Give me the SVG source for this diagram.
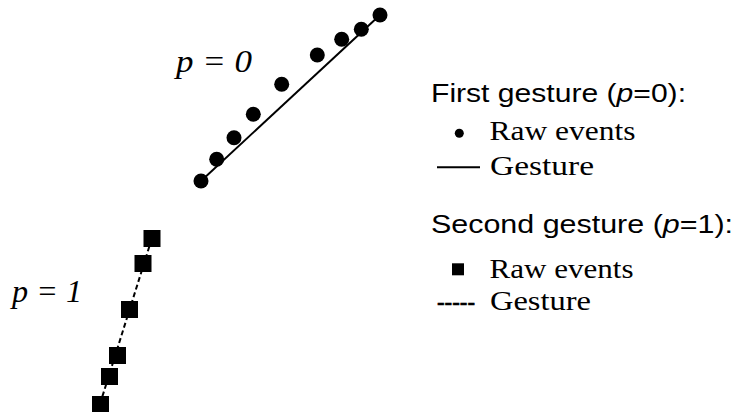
<svg xmlns="http://www.w3.org/2000/svg" width="736" height="412" viewBox="0 0 736 412">
<style>
.sans{font-family:"Liberation Sans",Arial,sans-serif;font-size:26px;fill:#000}
.serif{font-family:"Liberation Serif","Times New Roman",serif;font-size:28px;fill:#000}
.math{font-family:"Liberation Serif","Times New Roman",serif;font-size:31px;font-style:italic;fill:#000}
.dot{fill:#000}
.sq{fill:#000}
.solid{stroke:#000;stroke-width:2;fill:none}
.dash{stroke:#000;stroke-width:2;fill:none;stroke-dasharray:5 3}
</style>
<rect width="736" height="412" fill="#fff"/>
<g id="connectors">
<line class="solid" x1="201" y1="181" x2="380" y2="15"/>
<line class="dash" x1="100" y1="404" x2="152" y2="238"/>
</g>
<g id="gesture0">
<circle class="dot" cx="201" cy="181" r="7.5"/>
<circle class="dot" cx="216.7" cy="159.3" r="7.5"/>
<circle class="dot" cx="234" cy="137.7" r="7.5"/>
<circle class="dot" cx="253.3" cy="114.3" r="7.5"/>
<circle class="dot" cx="281.7" cy="84.3" r="7.5"/>
<circle class="dot" cx="317.3" cy="55" r="7.5"/>
<circle class="dot" cx="341.7" cy="39.3" r="7.5"/>
<circle class="dot" cx="361.3" cy="29.3" r="7.5"/>
<circle class="dot" cx="380" cy="15" r="7.5"/>
</g>
<g id="gesture1">
<rect class="sq" x="143.5" y="230" width="17" height="17"/>
<rect class="sq" x="134.5" y="255" width="17" height="17"/>
<rect class="sq" x="121" y="301" width="17" height="17"/>
<rect class="sq" x="109" y="347" width="17" height="17"/>
<rect class="sq" x="101" y="368" width="17" height="17"/>
<rect class="sq" x="92" y="396" width="17" height="17"/>
</g>
<g id="label-p0">
<text class="math" x="176" y="71.5" textLength="76" lengthAdjust="spacingAndGlyphs">p = 0</text>
</g>
<g id="label-p1">
<text class="math" x="12" y="302" textLength="70" lengthAdjust="spacingAndGlyphs">p = 1</text>
</g>
<g id="legend-first">
<text class="sans" x="431" y="101.7" textLength="255" lengthAdjust="spacingAndGlyphs">First gesture (<tspan font-style="italic">p</tspan>=0):</text>
<circle class="dot" cx="459.3" cy="133.3" r="4.5"/>
<text class="serif" x="489.5" y="140" textLength="146" lengthAdjust="spacingAndGlyphs">Raw events</text>
<line class="solid" x1="437" y1="167.3" x2="480" y2="167.3"/>
<text class="serif" x="490" y="175" textLength="104" lengthAdjust="spacingAndGlyphs">Gesture</text>
</g>
<g id="legend-second">
<text class="sans" x="431" y="233.3" textLength="302" lengthAdjust="spacingAndGlyphs">Second gesture (<tspan font-style="italic">p</tspan>=1):</text>
<rect class="sq" x="452" y="263.3" width="12" height="12"/>
<text class="serif" x="489.5" y="278.3" textLength="144" lengthAdjust="spacingAndGlyphs">Raw events</text>
<text class="serif" x="437" y="310" textLength="38" lengthAdjust="spacingAndGlyphs" stroke="#000" stroke-width="0.6">-----</text>
<text class="serif" x="490" y="310" textLength="101" lengthAdjust="spacingAndGlyphs">Gesture</text>
</g>
</svg>
